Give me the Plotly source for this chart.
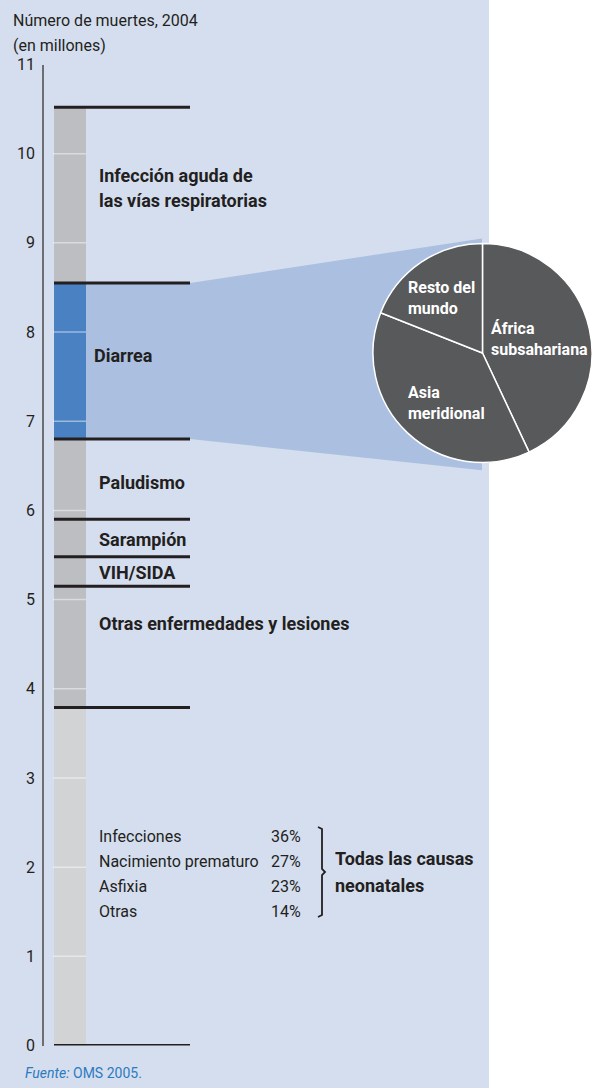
import plotly.graph_objects as go

# stacked bar, bottom to top (millions of deaths, 2004)
causes = ["Todas las causas neonatales", "Otras enfermedades y lesiones", "VIH/SIDA",
          "Sarampión", "Paludismo", "Diarrea", "Infección aguda de las vías respiratorias"]
deaths = [3.79, 1.36, 0.33, 0.42, 0.90, 1.75, 1.97]
bar_colors = ["#d2d3d5", "#bdbec1", "#bdbec1", "#bdbec1", "#bdbec1", "#4a81c2", "#bdbec1"]

neonatal_causes = ["Infecciones", "Nacimiento prematuro", "Asfixia", "Otras"]
neonatal_pct = [36, 27, 23, 14]

regions = ["África subsahariana", "Asia meridional", "Resto del mundo"]
region_share = [43, 38, 19]

y_ticks = list(range(0, 12))

W, H = 592, 1088
FONT = "Roboto, sans-serif"
DARK = "#231f20"


def py(pix):
    return 1 - pix / H


fig = go.Figure()

for name, val, col in zip(causes, deaths, bar_colors):
    fig.add_trace(go.Bar(
        x=[70], y=[val], width=32, name=name,
        marker=dict(color=col, line=dict(width=0)),
        hoverinfo="skip", showlegend=False
    ))

# boundaries of the stack
bounds = [0]
for v in deaths:
    bounds.append(bounds[-1] + v)

# blue funnel from the diarrhoea segment to the pie
fig.add_trace(go.Scatter(
    x=[86, 190, 482, 482, 190, 86],
    y=[bounds[6], bounds[6], 9.05, 6.45, bounds[5], bounds[5]],
    fill="toself", fillcolor="#abc0e1", mode="lines", line=dict(width=0),
    hoverinfo="skip", showlegend=False
))

fig.add_trace(go.Pie(
    values=region_share, labels=regions, sort=False, direction="clockwise",
    rotation=0, textinfo="none", hoverinfo="skip", showlegend=False,
    marker=dict(colors=["#58595b"] * 3, line=dict(color="white", width=1.5)),
    domain=dict(x=[0.63, 1.0], y=[py(353) - 0.11, py(353) + 0.11])
))

shapes = [dict(type="rect", xref="paper", yref="paper", x0=0, x1=489 / W, y0=0, y1=1,
               fillcolor="#d5deef", line=dict(width=0), layer="below")]

# faint gridlines over the bar
for t in y_ticks[1:-1]:
    shapes.append(dict(type="line", xref="x", yref="y", x0=53, x1=86, y0=t, y1=t,
                       line=dict(color="rgba(255,255,255,0.45)", width=1.5), layer="above"))

for b in bounds:
    shapes.append(dict(type="line", xref="x", yref="y", x0=54, x1=190, y0=b, y1=b,
                       line=dict(color=DARK, width=3), layer="above"))

# brace for the neonatal group
br = [(318, 827), (322, 829), (322, 869), (325, 872), (322, 875), (322, 915), (318, 917)]
path = "M " + " L ".join(f"{x},{py(y):.5f}" for x, y in br)
shapes.append(dict(type="path", xref="x", yref="paper", path=path,
                   line=dict(color=DARK, width=1.8)))

annotations = []


def label(text, x, y, size=18, bold=True, color=DARK, anchor="left"):
    t = f"<b>{text}</b>" if bold else text
    annotations.append(dict(text=t, x=x, y=py(y), xref="x", yref="paper",
                            xanchor=anchor, yanchor="middle", showarrow=False,
                            font=dict(family=FONT, size=size, color=color)))


label("Número de muertes, 2004", 11, 21, size=16, bold=False)
label("(en millones)", 11, 45, size=16, bold=False)

label("Infección aguda de", 97, 175)
label("las vías respiratorias", 97, 200)
label(causes[5], 92, 355)
label(causes[4], 97, 482)
label(causes[3], 97, 539)
label(causes[2], 97, 572)
label(causes[1], 97, 623)
label("Todas las causas", 333, 858)
label("neonatales", 333, 885)

for i, (n, p) in enumerate(zip(neonatal_causes, neonatal_pct)):
    yy = 836 + i * 25.3
    label(n, 97, yy, size=16, bold=False)
    label(f"{p}%", 303, yy, size=16, bold=False, anchor="right")

pie_labels = [("Resto del<br>mundo", 406, 298), ("África<br>subsahariana", 489, 339),
              ("Asia<br>meridional", 406, 403)]
for txt, x, y in pie_labels:
    annotations.append(dict(text=f"<b>{txt}</b>", x=x, y=py(y), xref="x", yref="paper",
                            xanchor="left", yanchor="middle", align="left",
                            showarrow=False,
                            font=dict(family=FONT, size=16, color="white")))

annotations.append(dict(text="<i>Fuente:</i> OMS 2005.", x=23, y=py(1073), xref="x",
                        yref="paper", xanchor="left", yanchor="middle", showarrow=False,
                        font=dict(family=FONT, size=14, color="#2b7bc0")))

fig.update_layout(
    width=W, height=H,
    margin=dict(l=0, r=0, t=0, b=0),
    barmode="stack",
    paper_bgcolor="white", plot_bgcolor="rgba(0,0,0,0)",
    xaxis=dict(range=[0, W], visible=False, fixedrange=True, automargin=False),
    yaxis=dict(range=[0, 11], domain=[py(1045.5), py(64.5)], anchor="free",
               position=43 / W, showline=True, linecolor="#6d6e71", linewidth=1.5,
               showgrid=False, zeroline=False, ticks="", tickvals=y_ticks,
               tickfont=dict(family=FONT, size=16, color=DARK), ticklabelstandoff=4,
               automargin=False, fixedrange=True),
    shapes=shapes,
    annotations=annotations,
    font=dict(family=FONT),
)

pin = ("document.body.style.margin='0';"
       "var gd=document.getElementById('{plot_id}');"
       "gd.style.position='fixed';gd.style.top='0';gd.style.left='0';")
fig.write_html("out.html", post_script=pin, config={"displayModeBar": False})
